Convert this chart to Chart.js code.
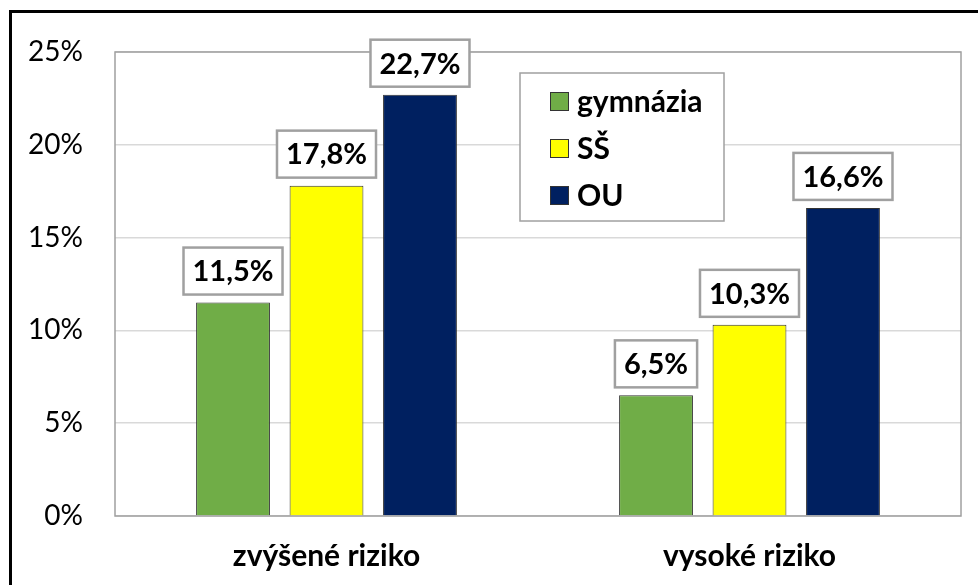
<!DOCTYPE html>
<html>
<head>
<meta charset="utf-8">
<script src="https://cdn.jsdelivr.net/npm/chart.js@4/dist/chart.umd.min.js"></script>
<style>
  html, body { margin: 0; padding: 0; background: #fff; overflow: hidden; }
  #wrap { position: relative; width: 978px; height: 585px; }
  #frame { position: absolute; left: 9px; top: 10px; width: 1000px; height: 600px;
           border-left: 3px solid #000; border-top: 3px solid #000; pointer-events: none; }
  canvas { position: absolute; left: 0; top: 0; }
</style>
</head>
<body>
<div id="wrap">
  <canvas id="bar-chart" width="978" height="585"></canvas>
  <div id="frame"></div>
</div>
<script>
// Data
var categories = ['zvýšené riziko', 'vysoké riziko'];
var seriesNames = ['gymnázia', 'SŠ', 'OU'];
var gymnazia = [11.5, 6.5];
var ss = [17.8, 10.3];
var ou = [22.7, 16.6];
var yTicks = [0, 5, 10, 15, 20, 25];

var colors = ['#70AD47', '#FFFF00', '#002060'];
var fontName = 'Lato, "Open Sans", sans-serif';

function fmt(v) {
  return v.toFixed(1).replace('.', ',') + '%';
}

// gray box around the plot area
var plotFrame = {
  id: 'plotFrame',
  beforeDatasetsDraw: function (chart) {
    var a = chart.chartArea, ctx = chart.ctx;
    ctx.save();
    ctx.strokeStyle = '#A0A0A0';
    ctx.lineWidth = 1.5;
    ctx.strokeRect(a.left, a.top, a.right - a.left, a.bottom - a.top);
    ctx.restore();
  }
};

// boxed value labels above the bars
var boxLabels = {
  id: 'boxLabels',
  afterDatasetsDraw: function (chart) {
    var ctx = chart.ctx;
    ctx.save();
    ctx.font = 'bold 29px ' + fontName;
    ctx.textAlign = 'center';
    ctx.textBaseline = 'middle';
    chart.data.datasets.forEach(function (ds, i) {
      chart.getDatasetMeta(i).data.forEach(function (bar, j) {
        var txt = fmt(ds.data[j]);
        var w = ctx.measureText(txt).width + 18;
        var h = 47;
        var bottom = bar.y - 8;
        ctx.fillStyle = '#fff';
        ctx.fillRect(bar.x - w / 2, bottom - h, w, h);
        ctx.strokeStyle = '#A0A0A0';
        ctx.lineWidth = 2.5;
        ctx.strokeRect(bar.x - w / 2, bottom - h, w, h);
        ctx.fillStyle = '#000';
        ctx.fillText(txt, bar.x, bottom - h / 2 + 1);
      });
    });
    ctx.restore();
  }
};

// legend in a gray box
var boxLegend = {
  id: 'boxLegend',
  afterDraw: function (chart) {
    var ctx = chart.ctx;
    ctx.save();
    ctx.fillStyle = '#fff';
    ctx.fillRect(520, 73, 204, 148);
    ctx.strokeStyle = '#A0A0A0';
    ctx.lineWidth = 1.5;
    ctx.strokeRect(520, 73, 204, 148);
    ctx.font = 'bold 30px ' + fontName;
    ctx.textBaseline = 'middle';
    ctx.textAlign = 'left';
    seriesNames.forEach(function (name, i) {
      var cy = 101 + i * 47;
      ctx.fillStyle = colors[i];
      ctx.fillRect(550, cy - 9, 19, 19);
      ctx.strokeStyle = '#333';
      ctx.lineWidth = 1;
      ctx.strokeRect(550.5, cy - 8.5, 18, 18);
      ctx.fillStyle = '#000';
      ctx.fillText(name, 577, cy + 1);
    });
    ctx.restore();
  }
};

var chartData = {
  labels: categories,
  datasets: [
    { label: seriesNames[0], data: gymnazia, backgroundColor: colors[0] },
    { label: seriesNames[1], data: ss, backgroundColor: colors[1] },
    { label: seriesNames[2], data: ou, backgroundColor: colors[2] }
  ]
};

chartData.datasets.forEach(function (ds) {
  ds.borderColor = '#333';
  ds.borderWidth = 1;
  ds.categoryPercentage = 0.663;
  ds.barPercentage = 0.79;
});

var barChart = new Chart(document.getElementById('bar-chart'), {
  type: 'bar',
  data: chartData,
  options: {
    responsive: false,
    animation: false,
    layout: { padding: { left: 0, top: 52, right: 17, bottom: 0 } },
    plugins: {
      legend: { display: false },
      tooltip: { enabled: false }
    },
    scales: {
      x: {
        grid: { display: false, drawTicks: false },
        border: { display: false },
        ticks: {
          color: '#000',
          padding: 22,
          font: { family: fontName, size: 30, weight: 'bold' }
        },
        afterFit: function (scale) { scale.height = 69; }
      },
      y: {
        min: 0,
        max: 25,
        afterBuildTicks: function (scale) {
          scale.ticks = yTicks.map(function (v) { return { value: v }; });
        },
        grid: {
          drawTicks: false,
          color: '#D9D9D9',
          lineWidth: 1.5
        },
        border: { display: false },
        ticks: {
          color: '#000',
          padding: 32,
          font: { family: fontName, size: 28 },
          callback: function (v) { return v + '%'; }
        },
        afterFit: function (scale) { scale.width = 115; }
      }
    }
  },
  plugins: [plotFrame, boxLabels, boxLegend]
});
</script>
</body>
</html>
